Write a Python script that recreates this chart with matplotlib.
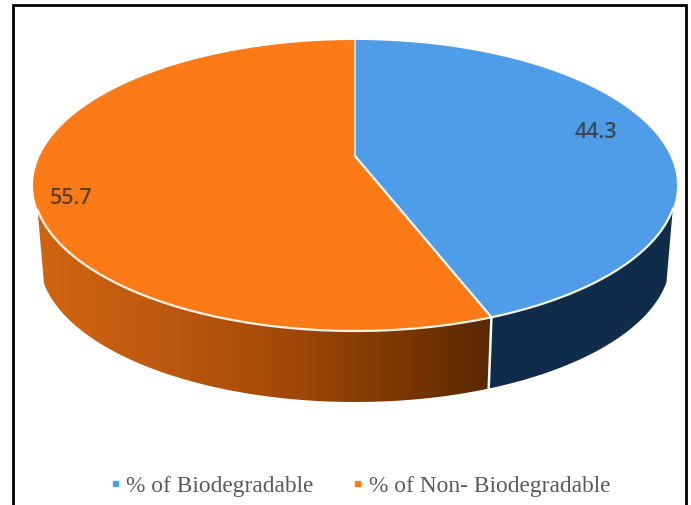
import numpy as np
import matplotlib
matplotlib.use('Agg')
import matplotlib.pyplot as plt
from matplotlib.colors import LinearSegmentedColormap
from matplotlib.lines import Line2D
from matplotlib.patches import Polygon

labels = ['% of Biodegradable', '% of Non- Biodegradable']
values = [44.3, 55.7]
top_colors = ['#4F9DE8', '#FD7A17']
label_radius = [0.80, 0.885]
label_shift = [-5, 19]

# tilted disc, pixel units
cx, cy = 355, 157
rx = 315.3
persp = 0.2027
tilt = -107.7
wall_scale = 0.98
wall_drop = 74.5


def project(t, r=1.0):
    u = r * np.sin(t)
    v = r * np.cos(t)
    d = 1 + persp * v
    return cx + rx * u / d, (tilt * v + cy) / d


def bottom(x, y):
    return cx + (x - cx) * wall_scale, cy + (y - cy) * wall_scale + wall_drop


def wall_polygon(t0, t1):
    t = np.linspace(t0, t1, 200)
    x, y = project(t)
    xb, yb = bottom(x, y)
    return np.r_[x, xb[::-1]], np.r_[y, yb[::-1]]


fig = plt.figure(figsize=(6.91, 5.06), dpi=100)
ax = fig.add_axes([0, 0, 1, 1])
ax.set_xlim(0, 691)
ax.set_ylim(506, 0)
ax.axis('off')

edges = np.deg2rad(np.r_[0, np.cumsum(values)] * 3.6)
split = edges[1]

# blue side of the wall, flat dark navy
x, y = wall_polygon(np.deg2rad(110.6), split)
ax.fill(x, y, color='#0F2D4A', lw=0, zorder=1)

# orange side has a gradient running left to right
x, y = wall_polygon(split, np.deg2rad(249))
wall = Polygon(np.c_[x, y], closed=True, fc='none', ec='none', transform=ax.transData)
ax.add_patch(wall)
cmap = LinearSegmentedColormap.from_list(
    'wall', ['#D0650F', '#C05A10', '#A84C0A', '#843A04', '#5A2800'])
grad = np.linspace(0, 1, 256).reshape(1, -1)
im = ax.imshow(grad, cmap=cmap, aspect='auto', zorder=1,
               extent=[x.min(), x.max(), y.max(), y.min()])
im.set_clip_path(wall)
ax.set_xlim(0, 691)
ax.set_ylim(506, 0)

# top face
for i in range(len(values)):
    t = np.linspace(edges[i], edges[i + 1], 200)
    x, y = project(t)
    ax.fill(np.r_[cx, x], np.r_[cy, y], color=top_colors[i], lw=0, zorder=2)

# white seams
rim = np.linspace(np.deg2rad(110.6), np.deg2rad(249), 300)
x, y = project(rim)
ax.plot(x, y, color='#FBF3EA', lw=1.6, zorder=3)
sx, sy = project(split)
sbx, sby = bottom(sx, sy)
ax.plot([cx, sx], [cy, sy], color='white', lw=1.6, zorder=3)
ax.plot([sx, sbx], [sy, sby], color='white', lw=1.8, zorder=3)
tx, ty = project(0.0)
ax.plot([cx, tx], [cy, ty], color='#F4E8E0', lw=1.2, zorder=3)

# value labels
for i in range(len(values)):
    mid = (edges[i] + edges[i + 1]) / 2
    lx, ly = project(mid, label_radius[i])
    ax.text(lx, ly + label_shift[i], f'{values[i]}', ha='center', va='center',
            family='Open Sans', fontweight='semibold', fontsize=15.5,
            color='#333333', alpha=0.8, zorder=4)

# frame, no bottom edge in the source
ax.plot([13.5, 13.5, 686, 686], [506, 6, 6, 506], color='black', lw=2, zorder=5,
        solid_joinstyle='miter')

handles = [Line2D([], [], ls='none', marker='s', ms=3.6, color=c) for c in top_colors]
leg = ax.legend(handles, labels, loc='center', bbox_to_anchor=(356.5 / 691, 1 - 486 / 506),
                ncol=2, frameon=False, handletextpad=0.0, columnspacing=1.35,
                handlelength=1.0, prop={'family': 'Liberation Serif', 'size': 16.8})
for text in leg.get_texts():
    text.set_color('#5A5A5A')

fig.savefig('out.png', dpi=100)
